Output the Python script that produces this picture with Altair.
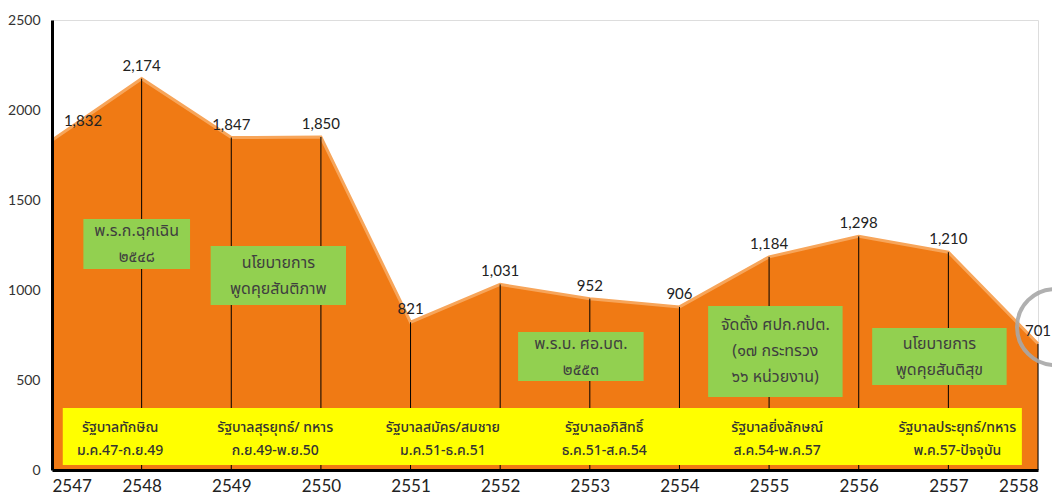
import altair as alt
import pandas as pd

# ---- data ----
years = [2547, 2548, 2549, 2550, 2551, 2552, 2553, 2554, 2555, 2556, 2557, 2558]
values = [1832, 2174, 1847, 1850, 821, 1031, 952, 906, 1184, 1298, 1210, 701]
value_labels = ["1,832", "2,174", "1,847", "1,850", "821", "1,031", "952", "906",
                "1,184", "1,298", "1,210", "701"]

event_texts = [
    ["พ.ร.ก.ฉุกเฉิน", "๒๕๔๘"],
    ["นโยบายการ", "พูดคุยสันติภาพ"],
    ["พ.ร.บ. ศอ.บต.", "๒๕๕๓"],
    ["จัดตั้ง ศปก.กปต.", "(๑๗ กระทรวง", "๖๖ หน่วยงาน)"],
    ["นโยบายการ", "พูดคุยสันติสุข"],
]
gov_names = ["รัฐบาลทักษิณ", "รัฐบาลสุรยุทธ์/ ทหาร", "รัฐบาลสมัคร/สมชาย",
             "รัฐบาลอภิสิทธิ์", "รัฐบาลยิ่งลักษณ์", "รัฐบาลประยุทธ์/ทหาร"]
gov_periods = ["ม.ค.47-ก.ย.49", "ก.ย.49-พ.ย.50", "ม.ค.51-ธ.ค.51",
               "ธ.ค.51-ส.ค.54", "ส.ค.54-พ.ค.57", "พ.ค.57-ปัจจุบัน"]

# ---- annotation layout (in data coordinates) ----
box_x1 = [2547.35, 2548.77, 2552.20, 2554.32, 2556.15]
box_x2 = [2548.54, 2550.28, 2553.60, 2555.82, 2557.65]
box_y1 = [1117, 917, 494, 406, 472]
box_y2 = [1394, 1244, 767, 911, 789]
gov_x = [2547.76, 2549.49, 2551.36, 2553.16, 2555.09, 2557.10]
gov_y = 233            # first text line of the yellow band
LINE_PX = 26           # line height in green boxes
PX_PER_UNIT = 450 / 2500

FONT = "Lato"
THAI = "Tahoma, Noto Sans Thai, Noto Sans, sans-serif"

df = pd.DataFrame({"year": years, "value": values, "label": value_labels,
                   "zero": [0] * len(years)})
boxes = pd.DataFrame({
    "x1": box_x1, "x2": box_x2, "y1": box_y1, "y2": box_y2,
    "xc": [(a + b) / 2 for a, b in zip(box_x1, box_x2)],
    "yt": [(a + b) / 2 + (len(t) - 1) * LINE_PX / PX_PER_UNIT / 2
           for a, b, t in zip(box_y1, box_y2, event_texts)],
    "txt": event_texts,
})
govs = pd.DataFrame({"x": gov_x, "y": [gov_y] * len(gov_x),
                     "txt": [[a, b] for a, b in zip(gov_names, gov_periods)]})
band = pd.DataFrame({"x1": [2547.12], "x2": [2557.82], "y1": [28], "y2": [344]})
ring = pd.DataFrame({"x": [2558.19], "y": [794]})

xs = alt.Scale(domain=[2547, 2558], nice=False, zero=False)
ys = alt.Scale(domain=[0, 2500], nice=False)

X = alt.X("year:Q", scale=xs, axis=alt.Axis(
    values=years, format="d", title=None, grid=False, ticks=False,
    domainColor="black", domainWidth=3, labelFontSize=17, labelColor="#222",
    labelFont=FONT, labelPadding=8, zindex=1))
Y = alt.Y("value:Q", scale=ys, axis=alt.Axis(
    values=[0, 500, 1000, 1500, 2000, 2500], format="d", title=None,
    grid=False, ticks=False, domainColor="black", domainWidth=3,
    labelFontSize=14, labelColor="#333", labelFont=FONT, labelPadding=12,
    zindex=1))

base = alt.Chart(df)
area = base.mark_area(color="#F07A14").encode(x=X, y=Y)
edge = base.mark_line(color="#F7A55A", strokeWidth=3).encode(
    x=alt.X("year:Q"), y=alt.Y("value:Q"))
rules = base.mark_rule(color="black", strokeWidth=1).encode(
    x=alt.X("year:Q"), y=alt.Y("zero:Q"), y2=alt.Y2("value"))

yellow = alt.Chart(band).mark_rect(color="#FFFF00").encode(
    x=alt.X("x1:Q", scale=xs), x2=alt.X2("x2"),
    y=alt.Y("y1:Q", scale=ys), y2=alt.Y2("y2"))
gov_txt = alt.Chart(govs).mark_text(
    font=THAI, fontSize=14, color="#333", lineHeight=23, baseline="middle",
    fontWeight=500
).encode(x=alt.X("x:Q", scale=xs), y=alt.Y("y:Q", scale=ys),
         text=alt.Text("txt:N"))

green = alt.Chart(boxes).mark_rect(color="#92D050").encode(
    x=alt.X("x1:Q", scale=xs), x2=alt.X2("x2"),
    y=alt.Y("y1:Q", scale=ys), y2=alt.Y2("y2"))
green_txt = alt.Chart(boxes).mark_text(
    font=THAI, fontSize=16, color="#3F3F3F", lineHeight=LINE_PX,
    baseline="middle"
).encode(x=alt.X("xc:Q", scale=xs), y=alt.Y("yt:Q", scale=ys),
         text=alt.Text("txt:N"))

first = df[df.year == 2547]
rest = df[df.year != 2547]
lab1 = alt.Chart(first).mark_text(
    font=FONT, fontSize=15, color="#222", dx=31, dy=-19).encode(
    x=alt.X("year:Q"), y=alt.Y("value:Q"), text=alt.Text("label:N"))
labs = alt.Chart(rest).mark_text(
    font=FONT, fontSize=15, color="#222", dy=-13).encode(
    x=alt.X("year:Q"), y=alt.Y("value:Q"), text=alt.Text("label:N"))

circle = alt.Chart(ring).mark_point(
    shape="circle", size=5776, filled=False, stroke="#A8A8A8", strokeWidth=4,
    opacity=0.9).encode(x=alt.X("x:Q", scale=xs), y=alt.Y("y:Q", scale=ys))

chart = alt.layer(area, edge, rules, yellow, gov_txt, green, green_txt,
                  labs, lab1, circle).properties(
    width=986, height=450,
    autosize="none",
    padding={"left": 44, "top": 12, "right": 14, "bottom": 25},
).configure_view(stroke=None).configure(background="white")

chart.save("out.html", embed_options={"renderer": "svg", "actions": False})
